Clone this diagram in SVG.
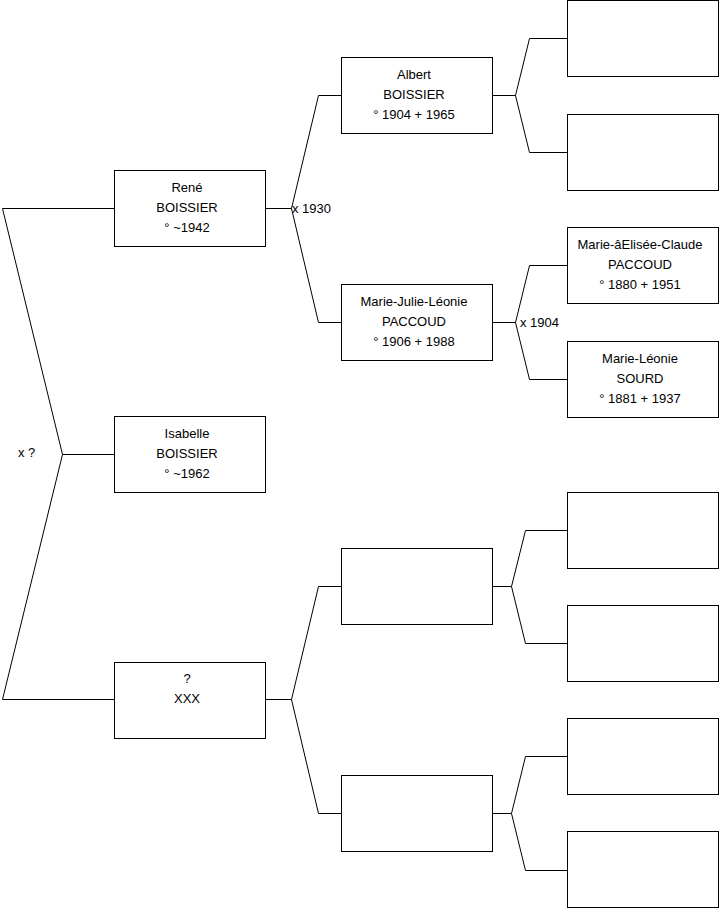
<svg xmlns="http://www.w3.org/2000/svg" width="719" height="908" viewBox="0 0 719 908">
<style>
.box{fill:#fff;stroke:#000;stroke-width:1}
.c{fill:none;stroke:#000;stroke-width:1}
text{font-family:"Liberation Sans",Arial,sans-serif;font-size:13px;fill:#000}
.m{text-anchor:middle}
</style>
<rect width="719" height="908" fill="#fff"/>
<g id="connectors">
<path class="c" d="M114.5,208.5H2.5L62.5,454.5L2.5,699.5H114.5M62.5,454.5H114.5"/>
<path class="c" d="M265.5,208.5H291.5L318.5,95.5H341.5M291.5,208.5L318.5,322.5H341.5"/>
<path class="c" d="M265.5,699.5H291.5L318.5,586.5H341.5M291.5,699.5L318.5,813.5H341.5"/>
<path class="c" d="M492.5,95.5H515.5L529.5,38.5H567.5M515.5,95.5L529.5,152.5H567.5"/>
<path class="c" d="M492.5,322.5H515.5L529.5,265.5H567.5M515.5,322.5L529.5,379.5H567.5"/>
<path class="c" d="M492.5,586.5H511.5L525.5,530.5H567.5M511.5,586.5L525.5,643.5H567.5"/>
<path class="c" d="M492.5,813.5H511.5L525.5,756.5H567.5M511.5,813.5L525.5,870.5H567.5"/>
<text x="292" y="212.5">x 1930</text>
<text x="520" y="326.5">x 1904</text>
<text x="18" y="456.5">x ?</text>
</g>
<g id="rene">
<rect class="box" x="114.5" y="170.5" width="151" height="76"/>
<text class="m" x="187" y="191.5">René</text>
<text class="m" x="187" y="211.5">BOISSIER</text>
<text class="m" x="187" y="231.5">° ~1942</text>
</g>
<g id="isabelle">
<rect class="box" x="114.5" y="416.5" width="151" height="76"/>
<text class="m" x="187" y="437.5">Isabelle</text>
<text class="m" x="187" y="457.5">BOISSIER</text>
<text class="m" x="187" y="477.5">° ~1962</text>
</g>
<g id="xxx">
<rect class="box" x="114.5" y="662.5" width="151" height="76"/>
<text class="m" x="187" y="683">?</text>
<text class="m" x="187" y="703">XXX</text>
</g>
<g id="albert">
<rect class="box" x="341.5" y="57.5" width="151" height="76"/>
<text class="m" x="414" y="78.5">Albert</text>
<text class="m" x="414" y="98.5">BOISSIER</text>
<text class="m" x="414" y="118.5">° 1904 + 1965</text>
</g>
<g id="marie-julie">
<rect class="box" x="341.5" y="284.5" width="151" height="76"/>
<text class="m" x="414" y="305.5">Marie-Julie-Léonie</text>
<text class="m" x="414" y="325.5">PACCOUD</text>
<text class="m" x="414" y="345.5">° 1906 + 1988</text>
</g>
<g id="blank-a">
<rect class="box" x="341.5" y="548.5" width="151" height="76"/>
</g>
<g id="blank-b">
<rect class="box" x="341.5" y="775.5" width="151" height="76"/>
</g>
<g id="p1"><rect class="box" x="567.5" y="0.5" width="151" height="76"/></g>
<g id="p2"><rect class="box" x="567.5" y="114.5" width="151" height="76"/></g>
<g id="marie-elisee">
<rect class="box" x="567.5" y="227.5" width="151" height="76"/>
<text class="m" x="640" y="248.5">Marie-âElisée-Claude</text>
<text class="m" x="640" y="268.5">PACCOUD</text>
<text class="m" x="640" y="288.5">° 1880 + 1951</text>
</g>
<g id="marie-leonie">
<rect class="box" x="567.5" y="341.5" width="151" height="76"/>
<text class="m" x="640" y="362.5">Marie-Léonie</text>
<text class="m" x="640" y="382.5">SOURD</text>
<text class="m" x="640" y="402.5">° 1881 + 1937</text>
</g>
<g id="p5"><rect class="box" x="567.5" y="492.5" width="151" height="76"/></g>
<g id="p6"><rect class="box" x="567.5" y="605.5" width="151" height="76"/></g>
<g id="p7"><rect class="box" x="567.5" y="718.5" width="151" height="76"/></g>
<g id="p8"><rect class="box" x="567.5" y="831.5" width="151" height="76"/></g>
</svg>
